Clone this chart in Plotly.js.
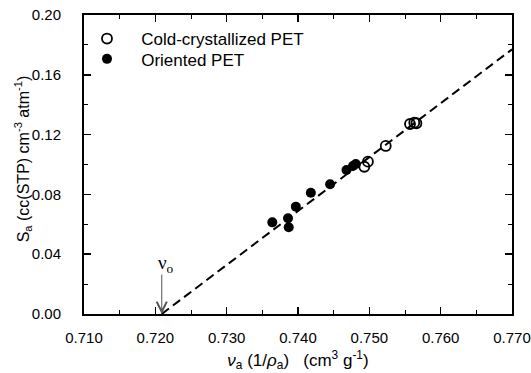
<!DOCTYPE html>
<html>
<head>
<meta charset="utf-8">
<script src="https://cdn.plot.ly/plotly-3.0.1.min.js"></script>
<style>html,body{margin:0;padding:0;background:#fff;}#chart{width:531px;height:373px;}</style>
</head>
<body>
<div id="chart"></div>
<script>
// Cold-crystallized PET (open circles)
const coldX = [0.7493, 0.7498, 0.7523, 0.7557, 0.7563, 0.7566];
const coldY = [0.0985, 0.1019, 0.1124, 0.1271, 0.1280, 0.1276];
// Oriented PET (filled circles)
const orientX = [0.7364, 0.7386, 0.7387, 0.7397, 0.7418, 0.7445, 0.7468, 0.7477, 0.7481];
const orientY = [0.0613, 0.0640, 0.0580, 0.0718, 0.0811, 0.0868, 0.0963, 0.0990, 0.1003];
// dashed fit line
const fitX = [0.7209, 0.770];
const fitY = [0.0, 0.177];
// nu_0 intercept
const nu0 = 0.7209;
const xTicks = [0.710, 0.720, 0.730, 0.740, 0.750, 0.760, 0.770];
const yTicks = [0.00, 0.04, 0.08, 0.12, 0.16, 0.20];

const font = "Liberation Sans, Arial, sans-serif";

const traces = [
  {x: fitX, y: fitY, mode: 'lines', showlegend: false, hoverinfo: 'skip',
   line: {color: '#000', width: 2, dash: '9px,5px'}},
  {x: coldX, y: coldY, mode: 'markers', name: '&nbsp;&nbsp;&nbsp;Cold-crystallized PET', legend: 'legend',
   marker: {symbol: 'circle-open', size: 10, color: '#000', line: {width: 1.8, color: '#000'}}},
  {x: orientX, y: orientY, mode: 'markers', name: '&nbsp;&nbsp;&nbsp;Oriented PET', legend: 'legend2',
   marker: {symbol: 'circle', size: 10, color: '#000'}}
];

const axisCommon = {
  showgrid: false, zeroline: false, showline: true, linecolor: '#000', linewidth: 2,
  mirror: 'ticks', ticks: 'inside', ticklen: 7, tickwidth: 1.5, tickcolor: '#000',
  tickfont: {family: font, size: 15, color: '#000'}
};

const legendCommon = {xanchor: 'left', yanchor: 'top', bgcolor: 'rgba(0,0,0,0)',
  font: {family: font, size: 17, color: '#000'}};

const layout = {
  width: 531, height: 373,
  margin: {l: 84, r: 19, t: 15, b: 59},
  paper_bgcolor: '#fff', plot_bgcolor: '#fff',
  font: {family: font, color: '#000'},
  xaxis: Object.assign({}, axisCommon, {
    range: [0.710, 0.770], tickvals: xTicks, ticktext: xTicks.map(v => v.toFixed(3)),
    ticklabelstandoff: 9,
    minor: {dtick: 0.005, tick0: 0.710, ticks: 'inside', ticklen: 4, tickwidth: 1, tickcolor: '#000', showgrid: false},
    title: {text: '<i>ν</i><sub>a</sub> (1/<i>ρ</i><sub>a</sub>)&nbsp;&nbsp; (cm<sup>3</sup> g<sup>-1</sup>)',
            font: {family: font, size: 17, color: '#000'}, standoff: 9}
  }),
  yaxis: Object.assign({}, axisCommon, {
    range: [0, 0.20], tickvals: yTicks, ticktext: yTicks.map(v => v.toFixed(2)),
    ticklabelstandoff: 18,
    minor: {dtick: 0.02, tick0: 0, ticks: 'inside', ticklen: 4, tickwidth: 1, tickcolor: '#000', showgrid: false}
  }),
  legend: Object.assign({}, legendCommon, {x: 0.007, y: 0.98}),
  legend2: Object.assign({}, legendCommon, {x: 0.007, y: 0.912}),
  annotations: [
    {x: nu0, y: 0, xref: 'x', yref: 'y', text: '', showarrow: true,
     ax: 0, ay: -41, arrowhead: 5, arrowsize: 2, arrowwidth: 1, arrowcolor: '#555'},
    {x: nu0, y: 0, xref: 'x', yref: 'y', text: 'ν<sub>o</sub>', showarrow: false,
     xanchor: 'center', yanchor: 'middle', xshift: 4, yshift: 50,
     font: {family: 'Liberation Serif, Times New Roman, serif', size: 19, color: '#000'}},
    {xref: 'paper', yref: 'paper', x: -0.143, y: 0.52, xanchor: 'center', yanchor: 'middle',
     textangle: -90, showarrow: false,
     text: 'S<sub>a</sub> (cc(STP) cm<sup>-3</sup> atm<sup>-1</sup>)',
     font: {family: font, size: 16, color: '#000'}}
  ],
  showlegend: true
};

Plotly.newPlot('chart', traces, layout, {displayModeBar: false, staticPlot: true});
</script>
</body>
</html>
